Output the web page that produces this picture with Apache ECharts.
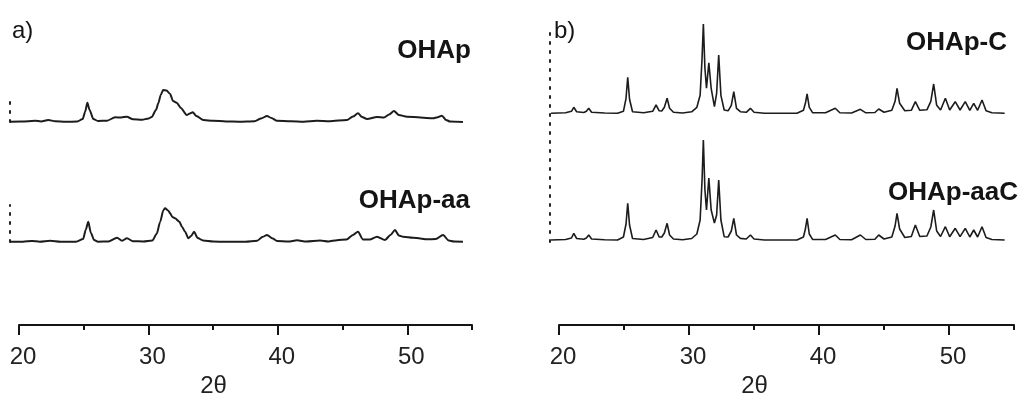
<!DOCTYPE html>
<html>
<head>
<meta charset="utf-8">
<script src="https://cdn.jsdelivr.net/npm/echarts@6/dist/echarts.min.js"></script>
<style>
  html, body { margin: 0; padding: 0; background: #ffffff; }
  #chart { width: 1024px; height: 399px; }
</style>
</head>
<body>
<div id="chart"></div>
<script>
// XRD patterns: [2θ (deg), intensity above the pattern's own baseline (a.u.)]
const ohap = [
  [19.3,0.3],[20.2,0.5],[21.24,1.2],[21.7,0.6],[22.26,2],[22.8,0.8],[23.6,0.2],[24.5,0.5],
  [24.92,3],[25.1,10],[25.28,19.3],[25.45,12],[25.74,3],[26.1,1],[26.8,1.3],[27.42,4.7],
  [27.9,4.5],[28.32,5.3],[28.81,2.7],[29.5,2.3],[30.0,3.5],[30.25,5],[30.58,12],[30.76,18.7],
  [30.95,27],[31.13,32],[31.4,31.5],[31.67,28],[31.9,21],[32.18,19.3],[32.5,14],[32.96,7],
  [33.2,8.5],[33.42,9.7],[33.7,6],[34.24,2],[35,1.2],[36,0.6],[37,0.3],[38.2,0.8],[38.7,3.5],
  [39.16,6],[39.5,4],[39.93,1.3],[41,0.8],[42,0.3],[43,1.2],[44,0.8],[45.34,2],[45.8,5.5],
  [46.19,8.7],[46.5,5],[46.89,3],[47.66,5],[48.2,4.5],[48.6,7.5],[48.97,11],[49.35,7],
  [49.98,5.3],[51,4.5],[51.99,3.7],[52.35,4.8],[52.68,6.3],[53.0,2],[53.3,0.5],[54.3,0]
];
const ohapAa = [
  [19.3,0.3],[20.3,0.3],[21.0,1],[21.6,0.3],[22.4,1.3],[23.2,0.3],[24.4,0.3],[24.95,3],
  [25.15,12],[25.35,20.3],[25.55,9],[25.8,2],[26.1,0.3],[26.9,0.5],[27.57,4.3],[27.96,1.3],
  [28.34,3.7],[28.8,0.8],[29.6,0.5],[30.3,1.5],[30.64,8.3],[30.9,20],[31.15,31.7],[31.28,33.7],
  [31.54,31.3],[31.67,28.7],[31.85,25],[32.05,23.7],[32.39,20.3],[32.6,15],[32.83,10.3],
  [33.08,3.7],[33.3,6],[33.52,10.3],[33.8,4],[34.22,1.5],[35,0.5],[36,0.2],[37.5,0.3],
  [38.4,1.3],[38.8,5],[39.16,7],[39.6,3.5],[39.93,1],[40.8,0.5],[41.48,1.7],[42.2,0.5],
  [43.26,1.5],[43.9,0.5],[44.57,1.8],[45.3,2.5],[45.8,7],[46.19,10.3],[46.58,2.5],[47.1,2.5],
  [47.66,5.3],[48.28,2],[48.7,7],[49.05,12],[49.35,6.5],[49.67,5.3],[50.44,4.3],[51.0,3.5],
  [51.52,2.7],[52.2,3],[52.76,7],[53.2,1.5],[53.6,0.5],[54.3,0.3]
];
const ohapC = [
  [19.38,0],[20.5,0.5],[20.95,2],[21.13,6],[21.35,1.5],[21.9,0.8],[22.1,2],[22.28,5],[22.5,1],
  [23.5,0.3],[24.5,0],[24.95,2],[25.15,15],[25.28,36],[25.42,14],[25.65,1.5],[26.5,0.5],
  [27.2,2],[27.46,8.3],[27.7,2.5],[27.9,2.3],[28.1,6],[28.31,15],[28.5,5],[28.8,1],[29.5,0.3],
  [30.2,1.5],[30.6,6],[30.85,18],[31.0,55],[31.1,89.3],[31.22,45],[31.34,25],[31.52,50.6],
  [31.7,25],[31.95,6.6],[32.12,20],[32.28,58.3],[32.45,18],[32.7,3.3],[33.0,2.5],[33.25,8],
  [33.44,21.6],[33.65,5],[33.95,1.6],[34.4,1],[34.72,5],[35.0,1],[35.8,0],[38.3,0],[38.8,3],
  [38.95,10],[39.08,19.3],[39.25,6],[39.5,0.6],[40.5,0.5],[41.25,5],[41.6,0.5],[42.5,0.3],
  [43.18,4],[43.6,0.5],[44.3,0.8],[44.59,4.3],[45.0,1],[45.6,3],[45.85,12],[46.0,25],[46.2,10],
  [46.6,2.5],[47.1,3],[47.41,11.6],[47.75,3],[48.3,3.5],[48.6,12],[48.82,29.3],[49.05,8],
  [49.35,3.3],[49.72,15],[50.05,3.3],[50.48,11.6],[50.85,3.3],[51.25,11.6],[51.6,3],[51.9,10],
  [52.2,3],[52.54,13.3],[52.85,2.5],[53.3,0.5],[54.28,0]
];
const ohapAaC = [
  [19.38,0],[20.5,0.5],[20.95,2],[21.13,6.7],[21.35,1.5],[21.9,0.8],[22.1,2],[22.28,5],[22.5,1],
  [23.5,0.3],[24.5,0],[24.95,3],[25.15,16],[25.28,36.7],[25.42,15],[25.65,1.5],[26.5,0.5],
  [27.2,2.5],[27.46,10],[27.7,3],[27.9,3],[28.1,7],[28.31,16.7],[28.5,5],[28.8,1],[29.5,0.3],
  [30.2,1.5],[30.6,6],[30.85,20],[31.0,60],[31.1,100],[31.22,50],[31.34,30],[31.52,62],
  [31.7,30],[31.95,17],[32.12,25],[32.28,60],[32.45,20],[32.7,3.3],[33.0,3],[33.25,9],
  [33.44,21.7],[33.65,5],[33.95,1.6],[34.4,1],[34.72,5],[35.0,1],[35.8,0],[38.3,0],[38.8,3],
  [38.95,11],[39.08,21.7],[39.25,6],[39.5,0.6],[40.5,0.5],[41.25,5],[41.6,0.5],[42.5,0.3],
  [43.18,5],[43.6,0.5],[44.3,0.8],[44.59,5],[45.0,1],[45.6,3],[45.85,14],[46.0,26.7],[46.2,11],
  [46.6,2.5],[47.1,3.5],[47.41,15],[47.75,3.5],[48.3,4],[48.6,13],[48.82,30],[49.05,9],
  [49.35,3.5],[49.72,13.3],[50.05,3.3],[50.48,11.7],[50.85,3.3],[51.25,11.7],[51.6,3],[51.9,10],
  [52.2,3],[52.54,13.3],[52.85,2.5],[53.3,0.5],[54.28,0]
];

const panelTags = ['a)', 'b)'];
const sampleNames = ['OHAp', 'OHAp-aa', 'OHAp-C', 'OHAp-aaC'];
const axisTitle = '2θ';
const tickStep = 10;      // labelled ticks: 20, 30, 40, 50
const minorStep = 5;      // short ticks in between
const twoThetaMin = 20, twoThetaMax = 55;
const traceStart = 19.3;  // patterns begin just left of the first tick

// vertical stacking of the two patterns sharing panel b
const offsetB = { top: 128.7, bottom: 2 };
const shift = (pts, dy) => pts.map(p => [p[0], p[1] + dy]);

const ink = '#151515';
const font = '"Liberation Sans", Arial, sans-serif';
const dotted = { color: '#222', width: 2, type: [2, 7] };

const grids = [
  { left: 10,  top: 97,  width: 462, height: 25 },   // a: OHAp
  { left: 10,  top: 205, width: 462, height: 37 },   // a: OHAp-aa
  { left: 550, top: 28,  width: 464, height: 214 },  // b: both patterns
  { left: 19,  top: 300, width: 453, height: 30 },   // a: 2θ axis
  { left: 559, top: 300, width: 455, height: 30 }    // b: 2θ axis
];

const traceX = g => ({
  type: 'value', gridIndex: g, min: traceStart, max: twoThetaMax, show: false
});
const majorX = g => ({
  type: 'value', gridIndex: g, position: 'bottom',
  min: twoThetaMin, max: twoThetaMax, interval: tickStep,
  axisLine: { show: true, lineStyle: { color: ink, width: 2 } },
  axisTick: { show: true, length: 10, lineStyle: { color: ink, width: 2 } },
  axisLabel: { show: true, showMaxLabel: false, margin: 20, color: '#222',
               fontFamily: font, fontSize: 24, padding: [0, 0, 0, 8] },
  splitLine: { show: false },
  name: axisTitle, nameLocation: 'middle', nameGap: 49,
  nameTextStyle: { color: '#222', fontFamily: font, fontSize: 24, padding: [0, 64, 0, 0] }
});
const minorX = g => ({
  type: 'value', gridIndex: g, position: 'bottom',
  min: twoThetaMin, max: twoThetaMax, interval: minorStep,
  axisLine: { show: false },
  axisTick: { show: true, length: 5, lineStyle: { color: ink, width: 2 } },
  axisLabel: { show: false }, splitLine: { show: false }
});
const dottedY = (g, max) => ({
  type: 'value', gridIndex: g, min: 0, max: max,
  axisLine: { show: true, lineStyle: dotted },
  axisTick: { show: false }, axisLabel: { show: false }, splitLine: { show: false }
});
const hiddenY = g => ({ type: 'value', gridIndex: g, show: false, splitLine: { show: false } });

const trace = (name, data, xi, yi, width, smooth) => ({
  name, type: 'line', data, xAxisIndex: xi, yAxisIndex: yi,
  showSymbol: false, clip: false, smooth, smoothMonotone: 'x',
  lineStyle: { color: '#1c1c1c', width }, silent: true, animation: false
});

const label = (text, x, y, align, weight, size) => ({
  type: 'text', x, y, silent: true,
  style: { text, textAlign: align, textVerticalAlign: 'middle',
           font: `${weight} ${size}px ${font}`, fill: '#141414' }
});

const option = {
  backgroundColor: '#ffffff',
  animation: false,
  grid: grids,
  xAxis: [traceX(0), traceX(1), traceX(2), majorX(3), minorX(3), majorX(4), minorX(4)],
  yAxis: [dottedY(0, 25), dottedY(1, 37), dottedY(2, 214), hiddenY(3), hiddenY(4)],
  series: [
    trace(sampleNames[0], ohap, 0, 0, 2, 0.25),
    trace(sampleNames[1], ohapAa, 1, 1, 2, 0.25),
    trace(sampleNames[2], shift(ohapC, offsetB.top), 2, 2, 1.6, false),
    trace(sampleNames[3], shift(ohapAaC, offsetB.bottom), 2, 2, 1.6, false)
  ],
  graphic: [
    label(panelTags[0], 12, 31.5, 'left', 'normal', 24),
    label(panelTags[1], 554, 31.5, 'left', 'normal', 24),
    label(sampleNames[0], 471, 50.5, 'right', 'bold', 26),
    label(sampleNames[1], 470, 200.5, 'right', 'bold', 26),
    label(sampleNames[2], 1007, 42.5, 'right', 'bold', 26),
    label(sampleNames[3], 1018, 192.5, 'right', 'bold', 26)
  ]
};

const chart = echarts.init(document.getElementById('chart'), null, { renderer: 'canvas' });
chart.setOption(option);
</script>
</body>
</html>
